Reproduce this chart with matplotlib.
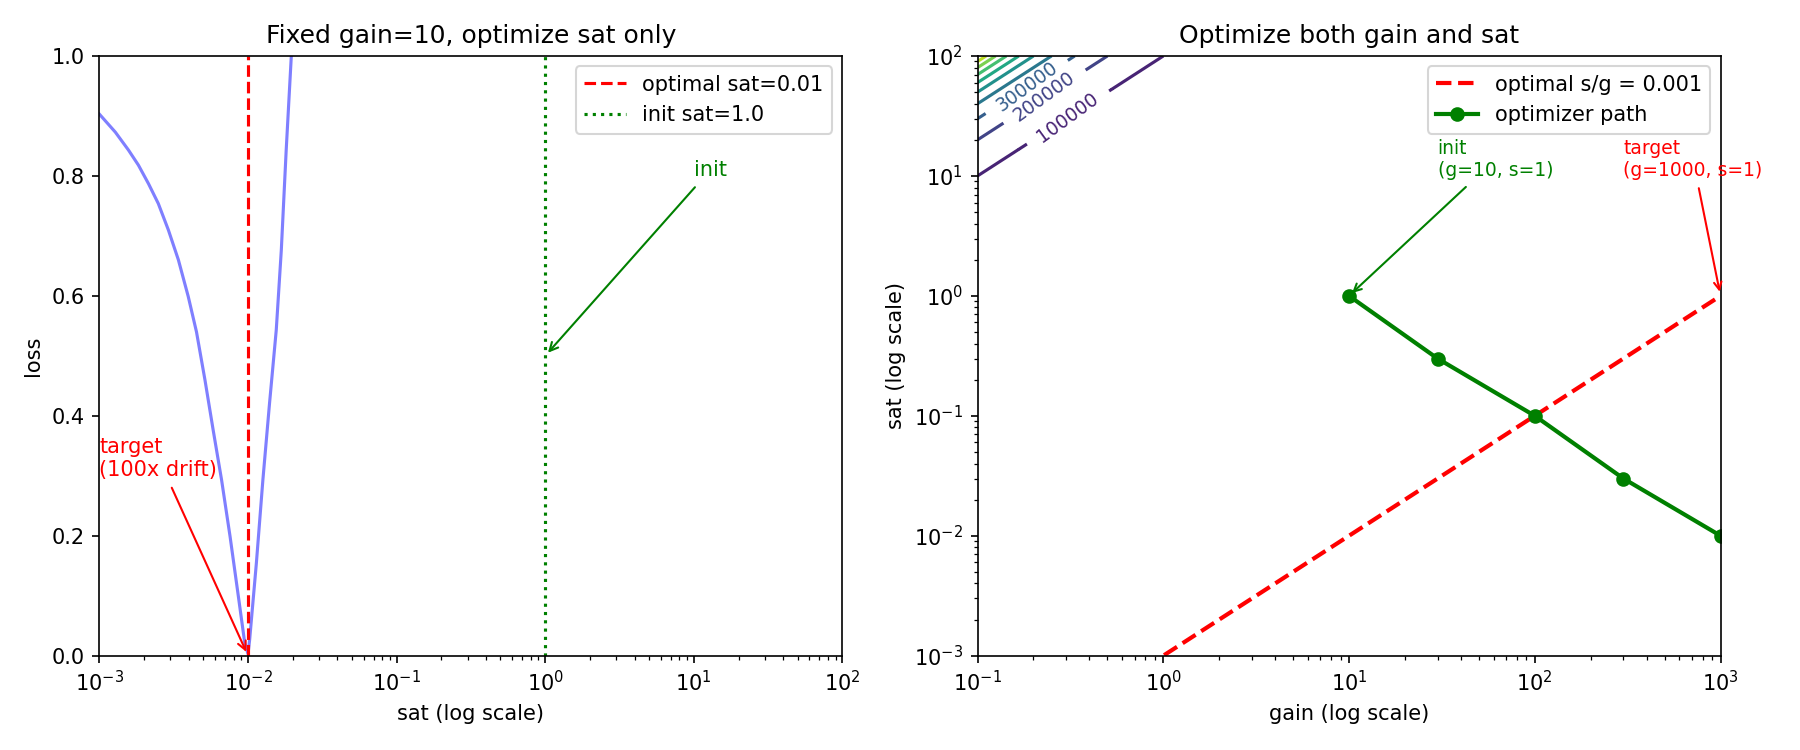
import numpy as np
import matplotlib
matplotlib.use("Agg")
import matplotlib.pyplot as plt

# left panel: loss vs sat at fixed gain=10
sat_vals = [0.00100, 0.00128, 0.00157, 0.00183, 0.00214, 0.00249, 0.00291,
            0.00340, 0.00396, 0.00450, 0.00513, 0.00583, 0.00664, 0.00757,
            0.00861, 0.00951, 0.0100, 0.01026, 0.01138, 0.01259, 0.01396,
            0.01549, 0.01675, 0.01807, 0.01954, 0.0205]
loss_vals = [0.903, 0.873, 0.843, 0.818, 0.787, 0.754, 0.710,
             0.660, 0.599, 0.540, 0.460, 0.376, 0.293, 0.199,
             0.099, 0.021, 0.003, 0.027, 0.154, 0.293, 0.421,
             0.543, 0.676, 0.843, 0.998, 1.05]
optimal_sat = 0.01
init_sat = 1.0

# right panel: optimizer path in (gain, sat)
path_gain = [10, 30, 100, 300, 1000]
path_sat = [1.0, 0.3, 0.1, 0.03, 0.01]
optimal_ratio = 0.001
line_gain = [0.1, 1000]
line_sat = [0.1 * optimal_ratio, 1000 * optimal_ratio]

# contour field over the (gain, sat) plane
gain_grid = np.logspace(-1, 3, 200)
sat_grid = np.logspace(-3, 2, 200)
contour_levels = [0, 100000, 200000, 300000, 400000, 500000,
                  600000, 700000, 800000, 900000, 1000000]
# where the 100000 / 200000 / 300000 labels sit
label_spots = [(0.307, 30.7), (0.230, 45.7), (0.185, 54.6)]

fig, axes = plt.subplots(1, 2, figsize=(12, 5))

# ---- left
ax = axes[0]
ax.plot(sat_vals, loss_vals, color="blue", alpha=0.5, lw=1.5)
ax.axvline(optimal_sat, color="red", ls="--", lw=1.5,
           label=f"optimal sat={optimal_sat}")
ax.axvline(init_sat, color="green", ls=":", lw=1.5,
           label=f"init sat={init_sat}")
ax.set_xscale("log")
ax.set_xlim(1e-3, 1e2)
ax.set_ylim(0, 1)
ax.set_xlabel("sat (log scale)")
ax.set_ylabel("loss")
ax.set_title("Fixed gain=10, optimize sat only", fontsize=12)
ax.annotate("init", xy=(init_sat, 0.5), xytext=(10, 0.8),
            color="green", fontsize=10,
            arrowprops=dict(arrowstyle="->", color="green"))
ax.annotate("target\n(100x drift)", xy=(optimal_sat, 0.0),
            xytext=(1e-3, 0.3), color="red", fontsize=10,
            arrowprops=dict(arrowstyle="->", color="red"))
ax.legend(loc="upper right")

# ---- right
ax2 = axes[1]
ax2.set_xscale("log")
ax2.set_yscale("log")
ax2.set_xlim(0.1, 1000)
ax2.set_ylim(1e-3, 1e2)
G, S = np.meshgrid(gain_grid, sat_grid)
Z = S / (G * optimal_ratio)
cs = ax2.contour(G, S, Z, levels=contour_levels, cmap="viridis")
ax2.clabel(cs, fmt="%d", fontsize=9, manual=label_spots)
ax2.plot(line_gain, line_sat, color="red", ls="--", lw=2,
         label=f"optimal s/g = {optimal_ratio}")
ax2.plot(path_gain, path_sat, color="green", lw=2, marker="o",
         markersize=6, label="optimizer path")
ax2.set_xlim(0.1, 1000)
ax2.set_ylim(1e-3, 1e2)
ax2.set_xlabel("gain (log scale)")
ax2.set_ylabel("sat (log scale)")
ax2.set_title("Optimize both gain and sat", fontsize=12)
ax2.annotate("init\n(g=10, s=1)", xy=(10, 1), xytext=(30, 10),
             color="green", fontsize=9,
             arrowprops=dict(arrowstyle="->", color="green"))
ax2.annotate("target\n(g=1000, s=1)", xy=(1000, 1), xytext=(300, 10),
             color="red", fontsize=9,
             arrowprops=dict(arrowstyle="->", color="red"))
ax2.legend(loc="upper right")

plt.tight_layout()
plt.savefig("out.png", dpi=150)
plt.close()
